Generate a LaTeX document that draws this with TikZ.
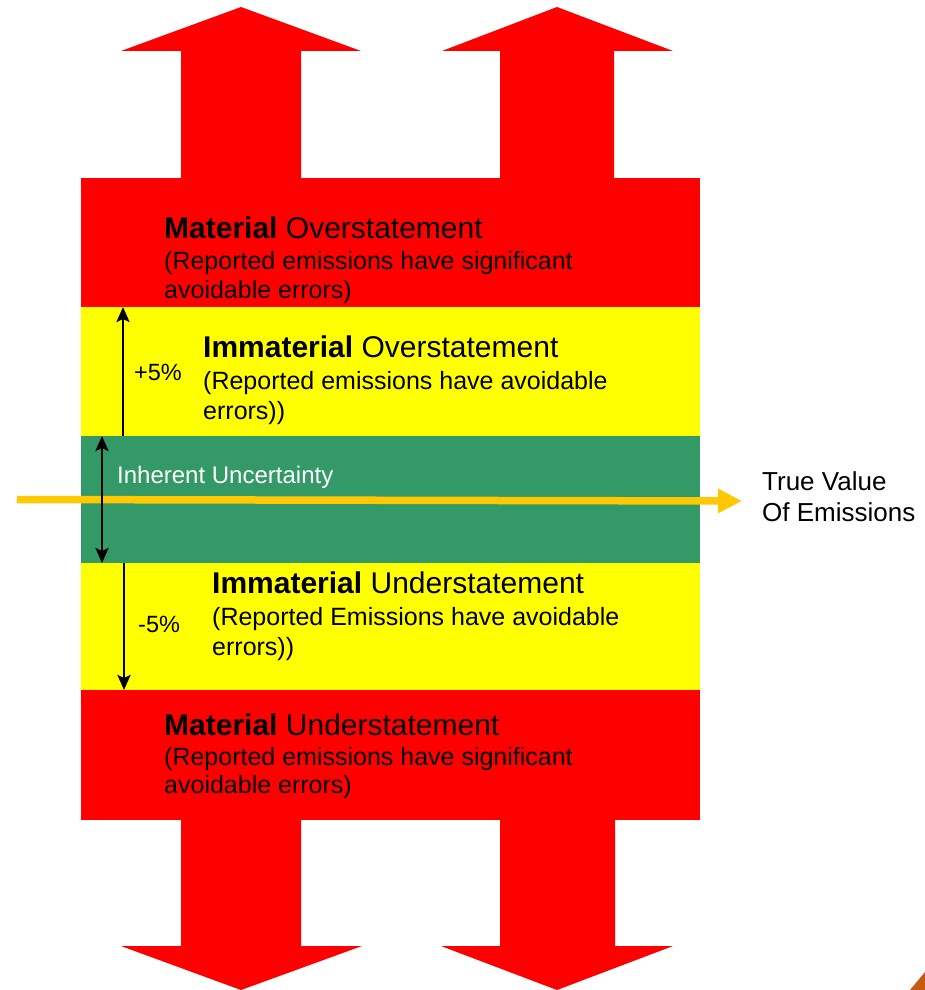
\documentclass[tikz,border=0pt]{standalone}
\usepackage{fontspec}
\setmainfont{Liberation Sans}
\usetikzlibrary{arrows.meta}
\definecolor{bandred}{HTML}{FF0000}
\definecolor{bandyellow}{HTML}{FFFF00}
\definecolor{bandgreen}{HTML}{339966}
\definecolor{truegold}{HTML}{FFC800}
\definecolor{cornerorange}{HTML}{C55A11}
\begin{document}
\begin{tikzpicture}[x=1pt,y=-1pt,
  band/.style={fill=#1, draw=none, minimum width=619pt, inner sep=0pt, outer sep=0pt},
  bigarrow/.style={fill=bandred, draw=none},
  headtxt/.style={anchor=base west, inner sep=0pt, font=\fontsize{30}{36}\selectfont},
  bodytxt/.style={anchor=base west, inner sep=0pt, font=\fontsize{25}{30}\selectfont},
  pcttxt/.style={anchor=base west, inner sep=0pt, font=\fontsize{23.5}{28}\selectfont},
  dimarrow/.style={line width=2.4pt, draw=black, -{Stealth[width=13pt,length=15pt,inset=3pt]}},
  dimboth/.style={line width=2.4pt, draw=black, {Stealth[width=13pt,length=15pt,inset=3pt]}-{Stealth[width=13pt,length=15pt,inset=3pt]}},
  truearrow/.style={line width=7.5pt, draw=truegold, -{Triangle[width=23pt,length=24pt]}}
]
\useasboundingbox (0,0) rectangle (925,990);

% big red arrows (up)
\fill[bigarrow] (181,180) -- (181,51) -- (121,51) -- (241,7) -- (361,51) -- (301,51) -- (301,180) -- cycle;
\fill[bigarrow] (500,180) -- (500,51) -- (442,51) -- (557,7) -- (673,51) -- (614,51) -- (614,180) -- cycle;
% big red arrows (down)
\fill[bigarrow] (181,818) -- (181,946) -- (121,946) -- (241,990) -- (362,946) -- (301,946) -- (301,818) -- cycle;
\fill[bigarrow] (500,818) -- (500,946) -- (441,946) -- (557,990) -- (673,946) -- (615,946) -- (615,818) -- cycle;

% bands
\node[band=bandred,    minimum height=129pt] (mo) at (390.5,242.5) {};
\node[band=bandyellow, minimum height=129pt] (io) at (390.5,371.5) {};
\node[band=bandgreen,  minimum height=127pt] (iu) at (390.5,499.5) {};
\node[band=bandyellow, minimum height=127pt] (iu2) at (390.5,626.5) {};
\node[band=bandred,    minimum height=130pt] (mu) at (390.5,755) {};

% true value arrow
\coordinate (tvstart) at (17,499.5);
\coordinate (tvend) at (742,501);
\draw[truearrow] (tvstart) -- (tvend);

% dimension arrows
\coordinate (a1top) at (123,307);
\coordinate (a1bot) at (123,436);
\coordinate (a2top) at (102,436);
\coordinate (a2bot) at (102,563);
\coordinate (a3top) at (124,563);
\coordinate (a3bot) at (124,690);
\draw[dimarrow] (a1bot) -- (a1top);
\draw[dimboth] (a2top) -- (a2bot);
\draw[dimarrow] (a3top) -- (a3bot);

% texts
\node[headtxt] (t1a) at (164,238) {\textbf{Material} Overstatement};
\node[bodytxt] (t1b) at (164,269) {(Reported emissions have significant};
\node[bodytxt] (t1c) at (164,298) {avoidable errors)};

\node[headtxt] (t2a) at (203,357) {\textbf{Immaterial} Overstatement};
\node[bodytxt] (t2b) at (203,389) {(Reported emissions have avoidable};
\node[bodytxt] (t2c) at (203,419) {errors))};
\node[pcttxt] (p1) at (134,380) {+5\%};

\node[bodytxt, font=\fontsize{24}{28}\selectfont, text=white] (t3) at (117,483) {Inherent Uncertainty};

\node[headtxt] (t4a) at (212,593) {\textbf{Immaterial} Understatement};
\node[bodytxt] (t4b) at (212,625) {(Reported Emissions have avoidable};
\node[bodytxt] (t4c) at (212,655) {errors))};
\node[pcttxt] (p2) at (138,632) {-5\%};

\node[headtxt] (t5a) at (164,735) {\textbf{Material} Understatement};
\node[bodytxt] (t5b) at (164,765) {(Reported emissions have significant};
\node[bodytxt] (t5c) at (164,793) {avoidable errors)};

\node[bodytxt, font=\fontsize{26}{31}\selectfont] (tv1) at (762,490) {True Value};
\node[bodytxt, font=\fontsize{26}{31}\selectfont] (tv2) at (762,521) {Of Emissions};

% corner wedge
\fill[cornerorange] (910,990) -- (925,972) -- (925,990) -- cycle;
\end{tikzpicture}
\end{document}
